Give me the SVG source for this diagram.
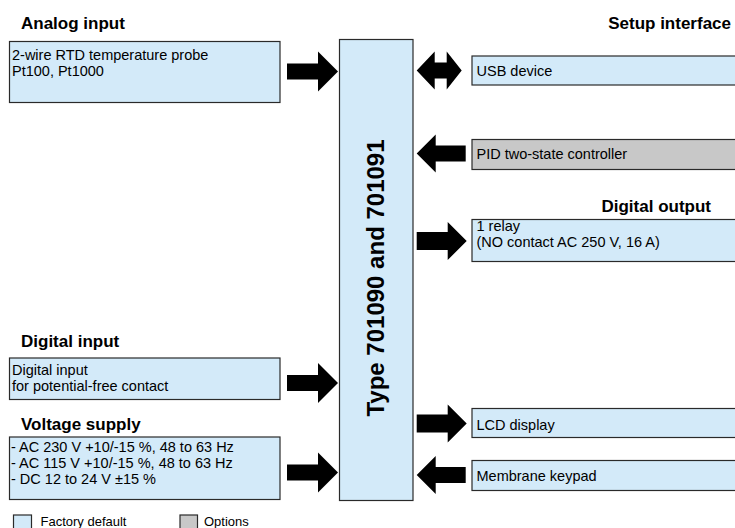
<svg xmlns="http://www.w3.org/2000/svg" width="735" height="528" viewBox="0 0 735 528">
<defs>
<style>
.box{fill:#d3eaf9;stroke:#2a2a2a;stroke-width:1.2}
.opt{fill:#c8c8c8;stroke:#2a2a2a;stroke-width:1.2}
.t{font-family:"Liberation Sans",Arial,sans-serif;font-size:14.5px;fill:#000}
.h{font-family:"Liberation Sans",Arial,sans-serif;font-size:17px;font-weight:bold;fill:#000}
.l{font-family:"Liberation Sans",Arial,sans-serif;font-size:13px;fill:#000}
.arr{fill:#000}
</style>
<path id="ra" d="M0,-8 H31 V-20 L51,0 L31,20 V8 H0 Z"/>
<path id="rr" d="M0,-9 H31 V-19 L50,0 L31,19 V9 H0 Z"/>
<path id="la" d="M0,0 L19,-19 V-8 H49 V8 H19 V19 Z"/>
<path id="da" d="M0,0 L18,-19 V-8 H30 V-19 L45,0 L30,19 V8 H18 V19 Z"/>
</defs>
<rect width="735" height="528" fill="#fff"/>

<g id="titles">
<text class="h" x="21" y="29">Analog input</text>
<text class="h" x="731" y="29" text-anchor="end">Setup interface</text>
<text class="h" x="711" y="212" text-anchor="end">Digital output</text>
<text class="h" x="21" y="347">Digital input</text>
<text class="h" x="21" y="430">Voltage supply</text>
</g>

<g id="central">
<rect class="box" x="339.5" y="39.5" width="73.5" height="461"/>
<text class="h" style="font-size:24px" transform="translate(384,278) rotate(-90)" text-anchor="middle">Type 701090 and 701091</text>
</g>

<g id="analog-input">
<rect class="box" x="9.5" y="41.5" width="270.5" height="61"/>
<text class="t" x="12" y="60">2-wire RTD temperature probe</text>
<text class="t" x="12" y="76.3">Pt100, Pt1000</text>
</g>

<g id="digital-input">
<rect class="box" x="9.5" y="358" width="270.5" height="41.5"/>
<text class="t" x="12" y="375">Digital input</text>
<text class="t" x="12" y="391.3">for potential-free contact</text>
</g>

<g id="voltage-supply">
<rect class="box" x="9.5" y="437" width="270.5" height="62.5"/>
<text class="t" x="11" y="451.5">- AC 230 V +10/-15 %, 48 to 63 Hz</text>
<text class="t" x="11" y="467.8">- AC 115 V +10/-15 %, 48 to 63 Hz</text>
<text class="t" x="11" y="484.1">- DC 12 to 24 V ±15 %</text>
</g>

<g id="usb-device">
<rect class="box" x="472" y="56" width="270" height="29"/>
<text class="t" x="476.5" y="76">USB device</text>
</g>

<g id="pid-controller">
<rect class="opt" x="472" y="139.5" width="270" height="30"/>
<text class="t" x="476.5" y="159">PID two-state controller</text>
</g>

<g id="relay">
<rect class="box" x="472" y="219.5" width="270" height="42"/>
<text class="t" x="476.5" y="230.5">1 relay</text>
<text class="t" x="476.5" y="246.8">(NO contact AC 250 V, 16 A)</text>
</g>

<g id="lcd-display">
<rect class="box" x="472" y="408.5" width="270" height="29"/>
<text class="t" x="476.5" y="429.5">LCD display</text>
</g>

<g id="membrane-keypad">
<rect class="box" x="472" y="460.5" width="270" height="30"/>
<text class="t" x="476.5" y="481">Membrane keypad</text>
</g>

<g id="connectors" class="arr">
<use href="#ra" transform="translate(287,71.5)"/>
<use href="#ra" transform="translate(287,383)"/>
<use href="#ra" transform="translate(287,472.5)"/>
<use href="#da" transform="translate(416.7,70.5)"/>
<use href="#la" transform="translate(416.7,153.5)"/>
<use href="#rr" transform="translate(416.7,241)"/>
<use href="#rr" transform="translate(416.7,423.5)"/>
<use href="#la" transform="translate(416.7,475)"/>
</g>

<g id="legend">
<rect class="box" x="13.5" y="515" width="18" height="20"/>
<text class="l" x="40.5" y="526">Factory default</text>
<rect class="opt" x="180" y="515" width="17.5" height="20"/>
<text class="l" x="204" y="526">Options</text>
</g>
</svg>
